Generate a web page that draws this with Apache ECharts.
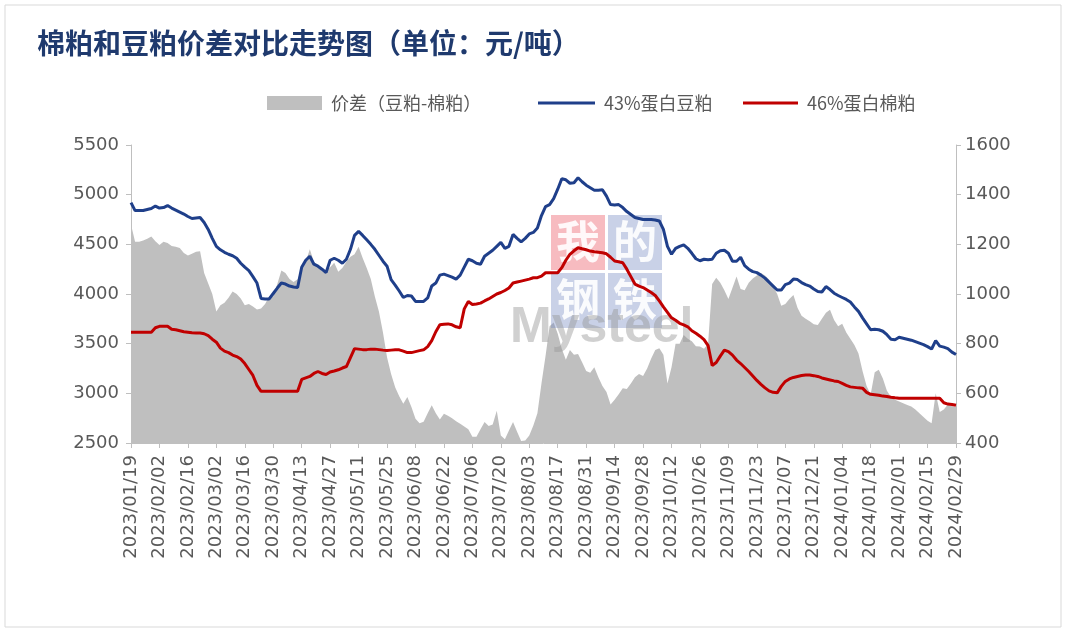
<!DOCTYPE html>
<html><head><meta charset="utf-8">
<script src="https://cdn.jsdelivr.net/npm/echarts@6/dist/echarts.min.js"></script>
<style>html,body{margin:0;padding:0;background:#fff}#c{width:1067px;height:634px}</style>
</head><body><div id="c"></div>
<script>
// Category dates: every 2 days from 2023/01/19 to 2024/02/29
const START_DATE = [2023, 1, 19];
const STEP_DAYS = 2;
const LABEL_EVERY = 7; // one label every 14 days

// 价差（豆粕-棉粕） right axis
const spread = [
1280,1210,1210,1215,1222,1232,1212,1197,1210,1205,
1193,1190,1185,1165,1155,1162,1170,1172,1085,1042,
1000,930,955,965,985,1010,1000,982,955,960,
950,938,942,960,991,990,1040,1095,1085,1060,
1048,1059,1100,1130,1180,1130,1115,1095,1095,1108,
1126,1090,1105,1130,1150,1160,1190,1145,1105,1060,
990,930,845,745,678,625,588,558,585,545,
498,480,486,520,552,520,495,518,510,500,
488,478,466,455,425,425,455,485,468,475,
530,430,415,450,485,445,408,410,430,470,
520,640,750,870,885,840,780,735,775,755,
758,725,690,683,705,665,630,605,555,574,
596,620,617,640,665,678,670,700,740,775,
782,755,640,705,800,800,835,820,810,790,
789,780,800,1040,1065,1045,1015,980,1025,1070,
1020,1015,1045,1062,1074,1085,1075,1058,1030,1000,
953,960,980,996,945,912,900,890,878,875,
900,925,937,895,870,880,845,820,795,760,
690,630,595,685,695,660,610,585,574,567,
560,553,547,535,520,505,490,480,600,525,
535,555,548,545];

// 43%蛋白豆粕 left axis
const soy = [
4920,4840,4840,4840,4850,4860,4885,4865,4870,4890,
4865,4845,4825,4805,4780,4760,4765,4770,4720,4650,
4560,4480,4445,4420,4400,4385,4360,4310,4270,4235,
4175,4110,3955,3950,3950,4005,4060,4110,4100,4080,
4070,4065,4270,4340,4380,4300,4280,4250,4215,4340,
4360,4340,4310,4350,4450,4590,4630,4590,4545,4500,
4450,4390,4330,4280,4145,4090,4030,3965,3985,3980,
3925,3925,3925,3960,4080,4110,4190,4200,4185,4170,
4150,4190,4270,4350,4335,4310,4300,4380,4410,4440,
4480,4520,4460,4480,4600,4560,4525,4560,4605,4620,
4665,4790,4880,4900,4960,5055,5160,5150,5115,5120,
5170,5130,5095,5070,5045,5045,5050,4985,4900,4895,
4900,4870,4830,4800,4770,4760,4750,4750,4750,4745,
4735,4650,4480,4400,4460,4480,4495,4460,4410,4355,
4335,4350,4345,4350,4410,4435,4440,4410,4330,4330,
4370,4285,4250,4225,4215,4190,4160,4120,4080,4040,
4040,4095,4110,4150,4145,4115,4095,4080,4050,4025,
4020,4075,4045,4008,3985,3965,3945,3920,3870,3825,
3760,3700,3640,3645,3640,3625,3590,3545,3540,3565,
3555,3545,3535,3520,3505,3490,3470,3446,3530,3475,
3465,3450,3415,3390];

// 46%蛋白棉粕 left axis
const cotton = [
3615,3615,3615,3615,3615,3615,3660,3675,3675,3675,
3645,3640,3630,3620,3615,3610,3608,3608,3600,3580,
3545,3515,3455,3425,3410,3385,3370,3345,3300,3240,
3180,3080,3020,3020,3020,3020,3020,3020,3020,3020,
3020,3020,3140,3155,3170,3200,3220,3200,3190,3215,
3225,3237,3255,3270,3360,3450,3445,3440,3440,3445,
3445,3440,3435,3432,3435,3438,3438,3425,3410,3410,
3420,3430,3438,3470,3530,3620,3690,3695,3699,3690,
3670,3660,3850,3925,3895,3900,3908,3930,3950,3975,
4000,4015,4035,4060,4110,4120,4130,4140,4150,4164,
4164,4180,4214,4214,4214,4214,4265,4340,4400,4435,
4466,4455,4445,4432,4425,4420,4415,4405,4370,4332,
4325,4315,4250,4175,4100,4080,4065,4040,4015,3985,
3930,3870,3815,3760,3735,3705,3690,3670,3630,3605,
3575,3540,3480,3280,3310,3375,3435,3420,3385,3335,
3300,3260,3220,3175,3130,3090,3055,3025,3010,3005,
3070,3120,3145,3160,3170,3180,3185,3185,3178,3170,
3155,3145,3135,3125,3119,3100,3080,3065,3060,3055,
3052,3010,2990,2985,2980,2972,2968,2960,2955,2951,
2950,2950,2950,2950,2950,2950,2950,2950,2950,2950,
2905,2892,2888,2880];

const leftAxis = {min: 2500, max: 5500, interval: 500};
const rightAxis = {min: 400, max: 1600, interval: 200};
const names = ['价差（豆粕-棉粕）', '43%蛋白豆粕', '46%蛋白棉粕'];
const titleText = '棉粕和豆粕价差对比走势图（单位：元/吨）';

function pad(n){ return (n < 10 ? '0' : '') + n; }
const dates = [];
for (let i = 0; i < soy.length; i++) {
  const d = new Date(Date.UTC(START_DATE[0], START_DATE[1]-1, START_DATE[2] + i*STEP_DAYS));
  dates.push(d.getUTCFullYear() + '/' + pad(d.getUTCMonth()+1) + '/' + pad(d.getUTCDate()));
}

const axisGray = '#bfbfbf';
const labelGray = '#595959';
const legendText = {fontSize: 18, color: labelGray, fontFamily: 'Noto Sans CJK SC', padding: [0,0,0,4]};
const plain = v => String(v);

const chart = echarts.init(document.getElementById('c'), null, {renderer: 'canvas'});
chart.setOption({
  backgroundColor: '#fff',
  animation: false,
  title: {
    text: titleText, left: 32, top: 24,
    textStyle: {fontSize: 28, fontWeight: 'bold', color: '#1f3a6e', fontFamily: 'Noto Sans CJK SC'}
  },
  legend: [
    {data: [names[0]], left: 262, top: 89, icon: 'rect', itemWidth: 55, itemHeight: 14, textStyle: legendText},
    {data: [names[1]], left: 533, top: 89, icon: 'rect', itemWidth: 57, itemHeight: 3, textStyle: legendText},
    {data: [names[2]], left: 738, top: 89, icon: 'rect', itemWidth: 55, itemHeight: 3, textStyle: legendText}
  ],
  grid: {left: 131, right: 111, top: 145, bottom: 191},
  xAxis: {
    type: 'category', data: dates, boundaryGap: false,
    axisLine: {lineStyle: {color: axisGray}},
    axisTick: {interval: LABEL_EVERY-1, length: 5, lineStyle: {color: axisGray}},
    axisLabel: {interval: LABEL_EVERY-1, rotate: 90, fontSize: 18, color: labelGray, fontFamily: 'DejaVu Sans', margin: 12}
  },
  yAxis: [
    {type: 'value', position: 'left', min: leftAxis.min, max: leftAxis.max, interval: leftAxis.interval,
     axisLine: {show: true, lineStyle: {color: axisGray}}, axisTick: {show: true, length: 5, lineStyle: {color: axisGray}},
     splitLine: {show: false}, axisLabel: {formatter: plain, fontSize: 18, color: labelGray, fontFamily: 'DejaVu Sans', margin: 12}},
    {type: 'value', position: 'right', min: rightAxis.min, max: rightAxis.max, interval: rightAxis.interval,
     axisLine: {show: true, lineStyle: {color: axisGray}}, axisTick: {show: true, length: 5, lineStyle: {color: axisGray}},
     splitLine: {show: false}, axisLabel: {formatter: plain, fontSize: 18, color: labelGray, fontFamily: 'DejaVu Sans', margin: 9}}
  ],
  series: [
    {name: names[0], type: 'line', yAxisIndex: 1, data: spread, symbol: 'none',
     lineStyle: {width: 0}, areaStyle: {color: '#bfbfbf', opacity: 1}, itemStyle: {color: '#bfbfbf'}, z: 1},
    {name: names[1], type: 'line', yAxisIndex: 0, data: soy, symbol: 'none',
     lineStyle: {width: 3, color: '#1f3f8a'}, itemStyle: {color: '#1f3f8a'}, z: 4},
    {name: names[2], type: 'line', yAxisIndex: 0, data: cotton, symbol: 'none',
     lineStyle: {width: 3, color: '#c00000'}, itemStyle: {color: '#c00000'}, z: 4}
  ],
  graphic: [
    {type: 'rect', z: 0, shape: {x: 5, y: 5, width: 1056, height: 622}, style: {fill: 'none', stroke: '#d9d9d9', lineWidth: 1}},
    {type: 'rect', z: 2, shape: {x: 551, y: 215, width: 54, height: 55}, style: {fill: 'rgba(240,120,130,0.5)'}},
    {type: 'rect', z: 2, shape: {x: 608, y: 215, width: 54, height: 55}, style: {fill: 'rgba(120,140,195,0.4)'}},
    {type: 'rect', z: 2, shape: {x: 551, y: 273, width: 54, height: 55}, style: {fill: 'rgba(120,140,195,0.4)'}},
    {type: 'rect', z: 2, shape: {x: 608, y: 273, width: 54, height: 55}, style: {fill: 'rgba(120,140,195,0.4)'}},
    {type: 'text', z: 3, left: 556, top: 219, style: {text: '我', fill: 'rgba(255,255,255,0.9)', font: 'bold 44px "Noto Sans CJK SC"'}},
    {type: 'text', z: 3, left: 613, top: 219, style: {text: '的', fill: 'rgba(255,255,255,0.9)', font: 'bold 44px "Noto Sans CJK SC"'}},
    {type: 'text', z: 3, left: 556, top: 277, style: {text: '钢', fill: 'rgba(255,255,255,0.9)', font: 'bold 44px "Noto Sans CJK SC"'}},
    {type: 'text', z: 3, left: 613, top: 277, style: {text: '铁', fill: 'rgba(255,255,255,0.9)', font: 'bold 44px "Noto Sans CJK SC"'}},
    {type: 'text', z: 3, left: 510, top: 303, style: {text: 'Mysteel', fill: 'rgba(150,150,150,0.45)', font: 'bold 50px "Liberation Sans"'}}
  ]
});
</script></body></html>
